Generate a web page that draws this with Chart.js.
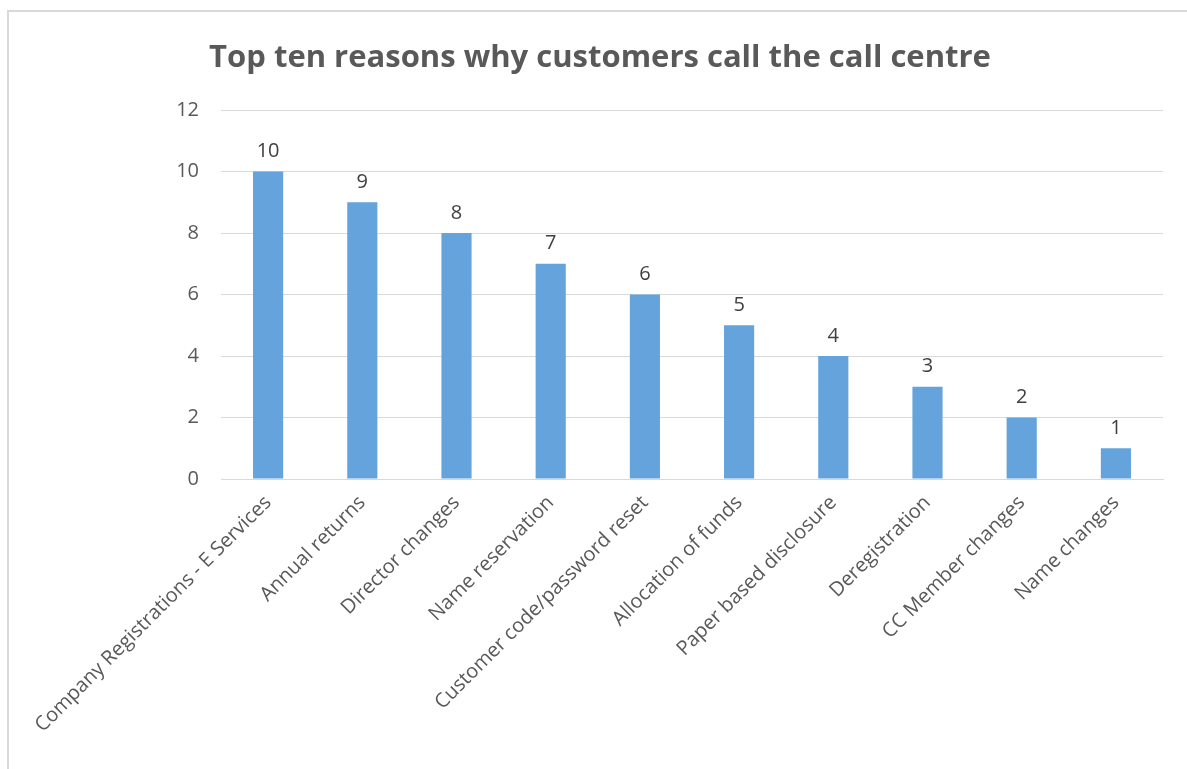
<!DOCTYPE html>
<html>
<head>
<meta charset="utf-8">
<script src="https://cdn.jsdelivr.net/npm/chart.js@4/dist/chart.umd.min.js"></script>
<style>
  html, body { margin: 0; padding: 0; background: #fff; overflow: hidden; }
  #frame { position: absolute; left: 7px; top: 10px; width: 1300px; height: 900px; border-left: 2px solid #d9d9d9; border-top: 2px solid #d9d9d9; }
  #wrap { position: absolute; left: 0; top: 0; width: 1187px; height: 769px; }
</style>
</head>
<body>
<div id="frame"></div>
<div id="wrap"><canvas id="c" width="1187" height="769"></canvas></div>
<script>
const chartTitle = "Top ten reasons why customers call the call centre";
const categories = [
  "Company Registrations - E Services",
  "Annual returns",
  "Director changes",
  "Name reservation",
  "Customer code/password reset",
  "Allocation of funds",
  "Paper based disclosure",
  "Deregistration",
  "CC Member changes",
  "Name changes"
];
const values = [10, 9, 8, 7, 6, 5, 4, 3, 2, 1];
const yTicks = [0, 2, 4, 6, 8, 10, 12];

const FONT = "'Open Sans', Lato, sans-serif";

const titlePlugin = {
  id: 'fixedTitle',
  afterDraw(chart) {
    const ctx = chart.ctx;
    ctx.save();
    ctx.font = "bold 31px " + FONT;
    ctx.fillStyle = "#595959";
    ctx.textAlign = "center";
    ctx.textBaseline = "alphabetic";
    ctx.fillText(chartTitle, 600, 67);
    ctx.restore();
  }
};

const labelPlugin = {
  id: 'barLabels',
  afterDatasetsDraw(chart) {
    const ctx = chart.ctx;
    const meta = chart.getDatasetMeta(0);
    ctx.save();
    ctx.font = "20px " + FONT;
    ctx.fillStyle = "#404040";
    ctx.textAlign = "center";
    ctx.textBaseline = "bottom";
    meta.data.forEach((bar, i) => {
      ctx.fillText(String(values[i]), bar.x, bar.y - 10);
    });
    ctx.restore();
  }
};

new Chart(document.getElementById('c'), {
  type: 'bar',
  data: {
    labels: categories,
    datasets: [{
      data: values,
      backgroundColor: '#64a3db',
      borderWidth: 0,
      barPercentage: 0.64,
      categoryPercentage: 0.5
    }]
  },
  options: {
    responsive: false,
    animation: false,
    layout: { padding: { top: 110, right: 24, left: 0, bottom: 0 } },
    plugins: { legend: { display: false }, tooltip: { enabled: false }, title: { display: false } },
    scales: {
      y: {
        min: 0, max: 12,
        afterBuildTicks(scale) { scale.ticks = yTicks.map(v => ({ value: v })); },
        afterFit(scale) { scale.width = 221; },
        border: { display: false },
        grid: { color: '#d9d9d9', lineWidth: 1, drawTicks: false },
        ticks: { color: '#595959', font: { family: FONT, size: 20 }, padding: 22 }
      },
      x: {
        afterFit(scale) { scale.height = 290; },
        border: { display: true, color: '#d9d9d9' },
        grid: { display: false },
        ticks: { color: '#595959', font: { family: FONT, size: 20 }, minRotation: 45, maxRotation: 45, padding: 4, autoSkip: false }
      }
    }
  },
  plugins: [titlePlugin, labelPlugin]
});
</script>
</body>
</html>
